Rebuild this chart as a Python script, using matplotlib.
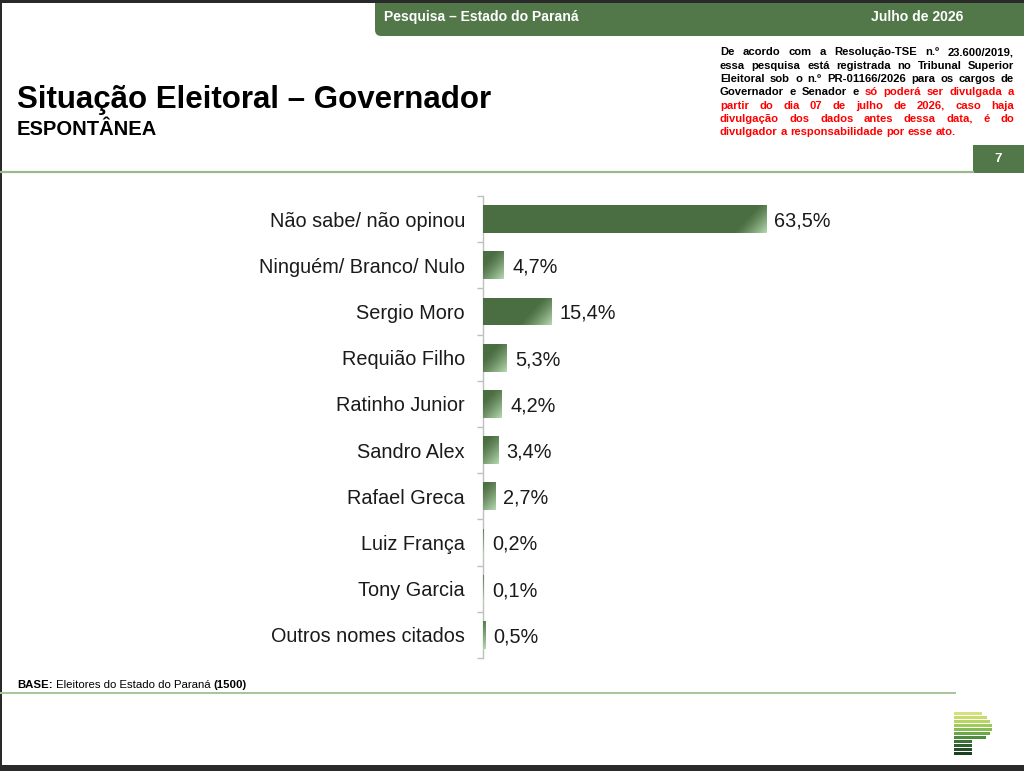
import matplotlib
matplotlib.use('Agg')
import matplotlib.pyplot as plt
import numpy as np
from matplotlib.patches import Rectangle, FancyBboxPatch
from matplotlib.colors import to_rgb

# ---------------- data ----------------
categories = ["Não sabe/ não opinou", "Ninguém/ Branco/ Nulo", "Sergio Moro",
              "Requião Filho", "Ratinho Junior", "Sandro Alex", "Rafael Greca",
              "Luiz França", "Tony Garcia", "Outros nomes citados"]
values = [63.5, 4.7, 15.4, 5.3, 4.2, 3.4, 2.7, 0.2, 0.1, 0.5]
value_labels = ["63,5%", "4,7%", "15,4%", "5,3%", "4,2%", "3,4%", "2,7%",
                "0,2%", "0,1%", "0,5%"]

title = "Situação Eleitoral – Governador"
subtitle = "ESPONTÂNEA"
header_left = "Pesquisa – Estado do Paraná"
header_right = "Julho de 2026"
page_number = "7"
base_bold = "BASE:"
base_text = " Eleitores do Estado do Paraná "
base_n = "(1500)"

# notice lines: list of (text, color) segments
notice_lines = [
    [("De acordo com a Resolução-TSE n.º 23.600/2019,", "black")],
    [("essa pesquisa está registrada no Tribunal Superior", "black")],
    [("Eleitoral sob o n.º PR-01166/2026 para os cargos de", "black")],
    [("Governador e Senador e", "black"), ("só poderá ser divulgada a", "red")],
    [("partir do dia 07 de julho de 2026, caso haja", "red")],
    [("divulgação dos dados antes dessa data, é do", "red")],
    [("divulgador a responsabilidade por esse ato.", "red")],
]

# ---------------- style ----------------
plt.rcParams['font.family'] = ['Liberation Sans', 'DejaVu Sans']
W, H = 1024, 771
GREEN = '#52784a'
BAR_DARK = '#4b6d42'
BAR_LIGHT = '#b8dcb2'
LINE_GREEN = '#9db88f'
TXT = '#1a1a1a'
LABEL_FS = 14.3

fig = plt.figure(figsize=(W / 100, H / 100), dpi=100)
fig.patch.set_facecolor('white')


def fx(px):
    return px / W


def fy(py):
    return 1 - py / H


def frect(x0, y0, x1, y1, color, **kw):
    r = Rectangle((fx(x0), fy(y1)), fx(x1) - fx(x0), fy(y0) - fy(y1),
                  transform=fig.transFigure, facecolor=color, edgecolor='none', **kw)
    fig.add_artist(r)
    return r


# ---------------- chart ----------------
n = len(categories)
XMAX = 100.0
SCALE = 4.457  # px per percent
ax_left, ax_top, ax_bottom = 483, 196, 658
ax = fig.add_axes([fx(ax_left), fy(ax_bottom), XMAX * SCALE / W, (ax_bottom - ax_top) / H])
ax.set_facecolor('none')
ypos = np.arange(n)
bar_h = 0.606
bars = ax.barh(ypos, values, height=bar_h, color=BAR_DARK, edgecolor='none', zorder=2)

dark = np.array(to_rgb(BAR_DARK))
light = np.array(to_rgb(BAR_LIGHT))
row_px = (ax_bottom - ax_top) / n
for i, (v, b) in enumerate(zip(values, bars)):
    wpx = v * SCALE
    hpx = bar_h * row_px
    nx = max(int(np.ceil(wpx)), 2)
    ny = max(int(np.ceil(hpx)), 2)
    xs = (np.arange(nx) + 0.5) / nx * wpx
    ys = (np.arange(ny) + 0.5) / ny * hpx
    dx = wpx - xs[None, :]
    dy = hpx - ys[:, None]
    t = np.clip(1 - (dx + 0.9 * dy) / 34.0, 0, 1) ** 1.3
    img = dark[None, None, :] * (1 - t[..., None]) + light[None, None, :] * t[..., None]
    img = np.clip(img, 0, 1)
    im = ax.imshow(img, extent=(0, v, i + bar_h / 2, i - bar_h / 2), origin='upper',
                   aspect='auto', interpolation='nearest', zorder=3)
    im.set_clip_path(b)

ax.set_xlim(0, XMAX)
ax.set_ylim(n - 0.5, -0.5)
ax.set_aspect('auto')

for s in ['top', 'right', 'bottom']:
    ax.spines[s].set_visible(False)
ax.spines['left'].set_color('#bfbfbf')
ax.spines['left'].set_linewidth(1.0)
ax.xaxis.set_visible(False)
ax.set_yticks(ypos)
ax.set_yticklabels(categories, fontsize=LABEL_FS, color=TXT)
ax.set_yticks(np.arange(-0.5, n, 1.0), minor=True)
ax.tick_params(axis='y', which='major', length=0, pad=13)
ax.tick_params(axis='y', which='minor', length=4, color='#bfbfbf', width=1.0)

for i, (v, lbl) in enumerate(zip(values, value_labels)):
    ax.annotate(lbl, (v, i), xytext=(6, 0), textcoords='offset points',
                va='center_baseline', ha='left', fontsize=LABEL_FS, color=TXT,
                annotation_clip=False)

# ---------------- page decoration ----------------
hdr = FancyBboxPatch((fx(375), fy(36)), fx(1040) - fx(375), fy(3) - fy(36),
                     boxstyle="round,pad=0,rounding_size=0.006",
                     transform=fig.transFigure, facecolor=GREEN, edgecolor='none',
                     mutation_aspect=W / H)
fig.add_artist(hdr)
frect(375, 3, 1024, 15, GREEN)
fig.text(fx(384), fy(17), header_left, color='white', fontsize=10.1, fontweight='bold',
         va='center', ha='left')
fig.text(fx(963), fy(17), header_right, color='white', fontsize=10.1, fontweight='bold',
         va='center', ha='right')

# title
fig.text(fx(17), fy(108), title, fontsize=22.5, fontweight='bold', va='baseline', ha='left',
         color='black')
fig.text(fx(17), fy(135), subtitle, fontsize=14.5, fontweight='bold', va='baseline',
         ha='left', color='black')

# separator line + page number box
fig.add_artist(plt.Line2D([fx(0), fx(973)], [fy(172), fy(172)], transform=fig.transFigure,
                          color=LINE_GREEN, linewidth=1.6))
frect(973, 145, 1024, 173, GREEN)
fig.text(fx(998), fy(159), page_number, color='white', fontsize=9.5, fontweight='bold',
         va='center', ha='center')

# justified notice text
fig.canvas.draw()
renderer = fig.canvas.get_renderer()
NX0, NX1 = 720, 1014
NY0, NDY = 55.3, 13.33
NFS = 8.15
sp = fig.text(0, 0, 'a a', fontsize=NFS, fontweight='bold')
sp2 = fig.text(0, 0, 'aa', fontsize=NFS, fontweight='bold')
space_w = sp.get_window_extent(renderer).width - sp2.get_window_extent(renderer).width
sp.remove()
sp2.remove()
for li, segs in enumerate(notice_lines):
    words = []
    for txt, col in segs:
        for w in txt.split(' '):
            words.append((w, col))
    ypx = NY0 + li * NDY
    arts = []
    widths = []
    for w, col in words:
        t = fig.text(0, fy(ypx), w, fontsize=NFS, fontweight='bold', color=col,
                     va='baseline', ha='left')
        bb = t.get_window_extent(renderer)
        arts.append(t)
        widths.append(bb.width)
    total = sum(widths)
    if li < len(notice_lines) - 1 and len(words) > 1:
        gap = (NX1 - NX0 - total) / (len(words) - 1)
    else:
        gap = space_w
    x = NX0
    for t, wdt in zip(arts, widths):
        t.set_x(fx(x))
        x += wdt + gap

# base note
BFS = 8.2
fig.add_artist(plt.Line2D([fx(0), fx(955)], [fy(693), fy(693)], transform=fig.transFigure,
                          color='#a9c39a', linewidth=1.4))
tb = fig.text(fx(17), fy(688.5), base_bold, fontsize=BFS, fontweight='bold', va='baseline')
x = 17 + tb.get_window_extent(renderer).width
tb2 = fig.text(fx(x), fy(688.5), base_text, fontsize=BFS, va='baseline')
x += tb2.get_window_extent(renderer).width
fig.text(fx(x), fy(688.5), base_n, fontsize=BFS, fontweight='bold', va='baseline')

# logo (stacked stripes forming a "P")
logo_w = [28, 33, 36, 38, 38, 36, 32, 18, 18, 18, 18]
logo_c = ['#d6e07c', '#c8dc6c', '#b6d562', '#9fcb5a', '#86bd52', '#6aa84a',
          '#4e8a40', '#3d7237', '#2f5e2f', '#244d28', '#1b3f22']
for k, (wl, cl) in enumerate(zip(logo_w, logo_c)):
    y0 = 712 + k * 4
    frect(954, y0, 954 + wl, y0 + 3.3, cl)

# dark frame edges
frect(0, 0, 1024, 3, '#2a2a2a')
frect(0, 0, 2, 771, '#2a2a2a')
frect(0, 765, 1024, 771, '#2a2a2a')

fig.savefig('out.png', dpi=100, facecolor='white')
